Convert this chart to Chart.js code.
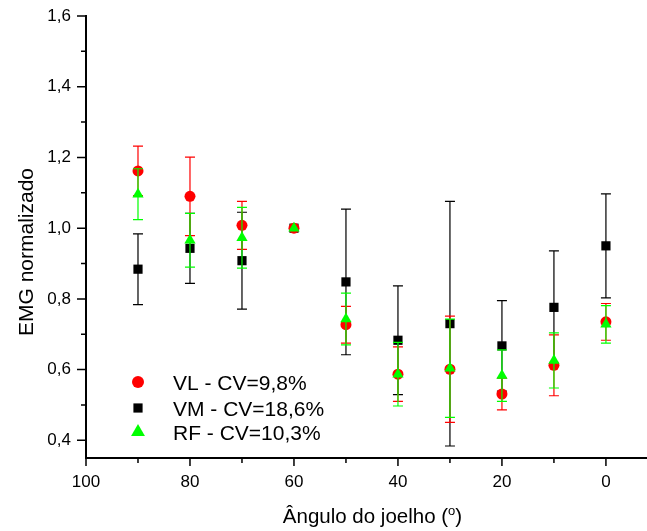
<!DOCTYPE html>
<html>
<head>
<meta charset="utf-8">
<title>EMG normalizado x ângulo do joelho</title>
<script src="https://cdn.jsdelivr.net/npm/chart.js@4.4.0/dist/chart.umd.min.js"></script>
<style>
  html, body { margin: 0; padding: 0; background: #fff; overflow: hidden; }
  #wrap { width: 647px; height: 531px; }
</style>
</head>
<body>
<div id="wrap"><canvas id="emg"></canvas></div>
<script>
// ── Data ─────────────────────────────────────────────
const angles = [90, 80, 70, 60, 50, 40, 30, 20, 10, 0];

const vlMean = [1.162, 1.090, 1.008, 1.0, 0.727, 0.587, 0.601, 0.531, 0.612, 0.735];
const vlSd   = [0.070, 0.111, 0.068, 0,   0.052, 0.077, 0.150, 0.045, 0.086, 0.052];

const vmMean = [0.884, 0.943, 0.908, 1.0, 0.848, 0.683, 0.730, 0.667, 0.776, 0.950];
const vmSd   = [0.100, 0.099, 0.137, 0,   0.206, 0.154, 0.346, 0.128, 0.160, 0.147];

const rfMean = [1.096, 0.966, 0.973, 1.0, 0.743, 0.587, 0.604, 0.583, 0.626, 0.728];
const rfSd   = [0.072, 0.076, 0.086, 0,   0.073, 0.090, 0.139, 0.073, 0.078, 0.053];

const seriesLabels = ['VL - CV=9,8%', 'VM - CV=18,6%', 'RF - CV=10,3%'];

const xMajorTicks = [100, 80, 60, 40, 20, 0];
const xMinorTicks = [90, 70, 50, 30, 10];
const yMajorTicks = [0.4, 0.6, 0.8, 1.0, 1.2, 1.4, 1.6];
const yMinorTicks = [0.5, 0.7, 0.9, 1.1, 1.3, 1.5];

const FONT = "'Liberation Sans', Arial, sans-serif";

const toPoints = ys => angles.map((a, i) => ({ x: a, y: ys[i] }));

// ── Error bars, drawn under each dataset's own markers ──
const errorBarPlugin = {
  id: 'errorBars',
  beforeDatasetDraw(chart, args) {
    const ds = chart.data.datasets[args.index];
    if (!ds.errors) return;
    const { ctx, scales: { x, y } } = chart;
    ctx.save();
    ctx.strokeStyle = ds.errorColor;
    ctx.lineWidth = 1.2;
    ds.data.forEach((p, i) => {
      const sd = ds.errors[i];
      if (!sd) return;
      const px = x.getPixelForValue(p.x);
      const top = y.getPixelForValue(p.y + sd);
      const bot = y.getPixelForValue(p.y - sd);
      ctx.beginPath();
      ctx.moveTo(px, top); ctx.lineTo(px, bot);
      ctx.moveTo(px - 5, top); ctx.lineTo(px + 5, top);
      ctx.moveTo(px - 5, bot); ctx.lineTo(px + 5, bot);
      ctx.stroke();
    });
    ctx.restore();
  },
};

// ── Outward tick marks, major and minor ──────────────
const tickMarkPlugin = {
  id: 'tickMarks',
  afterDraw(chart) {
    const { ctx, chartArea, scales: { x, y } } = chart;
    ctx.save();
    ctx.strokeStyle = '#000';
    ctx.lineWidth = 1.5;
    ctx.beginPath();
    xMajorTicks.forEach(v => { const p = x.getPixelForValue(v); ctx.moveTo(p, chartArea.bottom); ctx.lineTo(p, chartArea.bottom + 8); });
    xMinorTicks.forEach(v => { const p = x.getPixelForValue(v); ctx.moveTo(p, chartArea.bottom); ctx.lineTo(p, chartArea.bottom + 5); });
    yMajorTicks.forEach(v => { const p = y.getPixelForValue(v); ctx.moveTo(chartArea.left, p); ctx.lineTo(chartArea.left - 9, p); });
    yMinorTicks.forEach(v => { const p = y.getPixelForValue(v); ctx.moveTo(chartArea.left, p); ctx.lineTo(chartArea.left - 5, p); });
    ctx.stroke();
    ctx.restore();
  },
};

// ── Axis titles (x title carries a superscript) ──────
const axisTitlePlugin = {
  id: 'axisTitles',
  afterDraw(chart) {
    const { ctx } = chart;
    ctx.save();
    ctx.fillStyle = '#000';
    ctx.textBaseline = 'alphabetic';

    // y title, rotated
    ctx.font = `21px ${FONT}`;
    ctx.translate(33, 252);
    ctx.rotate(-Math.PI / 2);
    ctx.textAlign = 'center';
    ctx.fillText('EMG normalizado', 0, 0);
    ctx.setTransform(1, 0, 0, 1, 0, 0);

    // x title
    const main = 'Ângulo do joelho (';
    const sup = 'o';
    const close = ')';
    ctx.textAlign = 'left';
    ctx.font = `20.5px ${FONT}`;
    const wMain = ctx.measureText(main).width;
    const wClose = ctx.measureText(close).width;
    ctx.font = `13px ${FONT}`;
    const wSup = ctx.measureText(sup).width;
    let xPos = 372.5 - (wMain + wSup + wClose) / 2;
    const base = 523;
    ctx.font = `20.5px ${FONT}`;
    ctx.fillText(main, xPos, base);
    xPos += wMain;
    ctx.font = `13px ${FONT}`;
    ctx.fillText(sup, xPos, base - 8);
    xPos += wSup;
    ctx.font = `20.5px ${FONT}`;
    ctx.fillText(close, xPos, base);
    ctx.restore();
  },
};

// ── Legend inside the plot, lower left ───────────────
const insideLegendPlugin = {
  id: 'insideLegend',
  afterDraw(chart) {
    const { ctx } = chart;
    const rows = [382, 408, 432];
    ctx.save();
    ctx.font = `21px ${FONT}`;
    ctx.textAlign = 'left';
    ctx.textBaseline = 'alphabetic';
    chart.data.datasets.forEach((ds, i) => {
      const yy = rows[i];
      ctx.fillStyle = ds.backgroundColor;
      ctx.strokeStyle = ds.backgroundColor;
      ctx.lineWidth = 0;
      Chart.helpers.drawPoint(ctx, {
        pointStyle: ds.pointStyle,
        radius: ds.legendRadius,
        borderWidth: 0,
        rotation: 0,
      }, 138, yy);
      ctx.fillStyle = '#000';
      ctx.fillText(ds.label, 173, yy + 7.5);
    });
    ctx.restore();
  },
};

const ctx = document.getElementById('emg').getContext('2d');
new Chart(ctx, {
  type: 'scatter',
  data: {
    datasets: [
      {
        label: seriesLabels[0],
        data: toPoints(vlMean),
        errors: vlSd,
        errorColor: '#ff0000',
        pointStyle: 'circle',
        pointRadius: 5.5,
        legendRadius: 6,
        backgroundColor: '#ff0000',
        borderWidth: 0,
        order: 1,
      },
      {
        label: seriesLabels[1],
        data: toPoints(vmMean),
        errors: vmSd,
        errorColor: '#000000',
        pointStyle: 'rect',
        pointRadius: 6.5,
        legendRadius: 6.5,
        backgroundColor: '#000000',
        borderWidth: 0,
        order: 2,
      },
      {
        label: seriesLabels[2],
        data: toPoints(rfMean),
        errors: rfSd,
        errorColor: '#00ff00',
        pointStyle: 'triangle',
        pointRadius: 6.5,
        legendRadius: 8,
        backgroundColor: '#00ff00',
        borderWidth: 0,
        order: 0,
      },
    ],
  },
  options: {
    responsive: true,
    maintainAspectRatio: false,
    animation: false,
    devicePixelRatio: 1,
    layout: { autoPadding: false, padding: { top: 16, right: 0, left: 0, bottom: 0 } },
    plugins: {
      legend: { display: false },
      tooltip: { enabled: false },
    },
    scales: {
      x: {
        type: 'linear',
        min: -7.9,
        max: 100,
        reverse: true,
        afterBuildTicks: s => { s.ticks = xMajorTicks.map(v => ({ value: v })); },
        afterFit: s => { s.height = 73; s.paddingLeft = 0; s.paddingRight = 0; },
        grid: { drawOnChartArea: false, drawTicks: false },
        border: { display: true, color: '#000', width: 2 },
        ticks: {
          color: '#000',
          font: { family: FONT, size: 17 },
          padding: 14,
          maxRotation: 0,
          autoSkip: false,
        },
      },
      y: {
        type: 'linear',
        min: 0.35,
        max: 1.6,
        afterBuildTicks: s => { s.ticks = yMajorTicks.map(v => ({ value: v })); },
        afterFit: s => { s.width = 86; s.paddingTop = 0; s.paddingBottom = 0; },
        grid: { drawOnChartArea: false, drawTicks: false },
        border: { display: true, color: '#000', width: 2 },
        ticks: {
          color: '#000',
          font: { family: FONT, size: 17 },
          padding: 15,
          autoSkip: false,
          callback: v => v.toFixed(1).replace('.', ','),
        },
      },
    },
  },
  plugins: [errorBarPlugin, tickMarkPlugin, axisTitlePlugin, insideLegendPlugin],
});
</script>
</body>
</html>
